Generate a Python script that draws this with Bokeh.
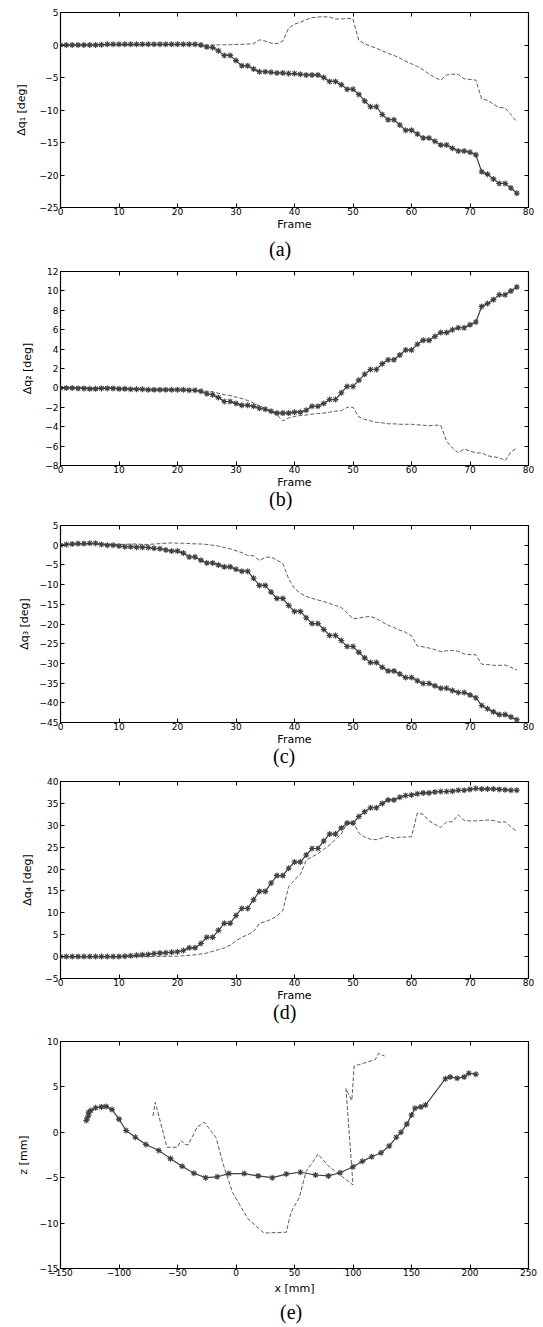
from bokeh.plotting import figure
from bokeh.layouts import column
from bokeh.models import Range1d, LinearAxis, FixedTicker, Title
from bokeh.embed import file_html
from bokeh.resources import INLINE

frames = [0, 1, 2, 3, 4, 5, 6, 7, 8, 9, 10, 11, 12, 13, 14, 15, 16, 17, 18, 19,
          20, 21, 22, 23, 24, 25, 26, 27, 28, 29, 30, 31, 32, 33, 34, 35, 36, 37, 38, 39,
          40, 41, 42, 43, 44, 45, 46, 47, 48, 49, 50, 51, 52, 53, 54, 55, 56, 57, 58, 59,
          60, 61, 62, 63, 64, 65, 66, 67, 68, 69, 70, 71, 72, 73, 74, 75, 76, 77, 78]

# (a) delta q1
q1_est = [0, 0, 0, 0, 0, 0, 0, 0.05, 0.1, 0.1, 0.1, 0.1, 0.1, 0.1, 0.1, 0.1,
          0.1, 0.1, 0.1, 0.1, 0.1, 0.1, 0.1, 0.1, 0.0, -0.3, -0.4, -0.9, -1.6, -1.6,
          -2.4, -3.2, -3.2, -3.7, -4.1, -4.1, -4.2, -4.3, -4.3, -4.4,
          -4.4, -4.5, -4.6, -4.6, -4.6, -5.0, -5.6, -5.6, -6.1, -6.8,
          -6.8, -7.6, -8.6, -9.5, -9.5, -10.7, -11.5, -11.5, -12.3, -13.1,
          -13.1, -13.7, -14.3, -14.3, -14.8, -15.4, -15.4, -15.9, -16.3, -16.3,
          -16.5, -16.9, -19.5, -19.9, -20.6, -21.3, -21.3, -22.0, -22.8]
q1_ref = [0, 0, 0, 0, 0, 0, 0, 0, 0, 0, 0, 0, 0, 0, 0, 0, 0, 0, 0, 0,
          0, 0, 0, 0, 0, 0.0, 0.0, 0.02, 0.03, 0.05,
          0.08, 0.1, 0.15, 0.2, 0.8, 0.6, 0.3, 0.2, 0.6, 2.6,
          3.2, 3.5, 3.9, 4.2, 4.3, 4.35, 4.3, 4.0, 4.0, 4.1,
          4.0, 0.7, 0.2, -0.2, -0.5, -0.9, -1.3, -1.6, -2.0, -2.5,
          -2.9, -3.3, -3.8, -4.5, -5.0, -5.4, -4.6, -4.5, -4.5, -5.2,
          -5.3, -5.4, -8.3, -8.5, -9.1, -9.6, -9.7, -10.7, -11.8]

# (b) delta q2
q2_est = [0.0, 0.0, 0.0, -0.05, -0.05, -0.1, -0.1, -0.05, -0.05, -0.05,
          -0.1, -0.1, -0.15, -0.15, -0.15, -0.2, -0.2, -0.2, -0.2, -0.2,
          -0.2, -0.2, -0.25, -0.25, -0.35, -0.6, -0.7, -1.0, -1.4, -1.4,
          -1.6, -1.8, -1.8, -1.9, -2.1, -2.2, -2.4, -2.6, -2.6, -2.6,
          -2.5, -2.5, -2.3, -1.9, -1.9, -1.6, -1.2, -1.2, -0.5, 0.15,
          0.15, 0.8, 1.4, 1.9, 1.9, 2.5, 2.9, 2.9, 3.4, 3.9,
          3.9, 4.5, 4.9, 4.9, 5.3, 5.7, 5.7, 6.0, 6.2, 6.2,
          6.5, 6.8, 8.4, 8.7, 9.1, 9.6, 9.6, 10.0, 10.4]
q2_ref = [0.0, 0.0, 0.0, 0.0, 0.0, 0.0, 0.0, 0.0, 0.0, 0.0,
          -0.05, -0.05, -0.05, -0.1, -0.1, -0.1, -0.1, -0.1, -0.1, -0.1,
          -0.1, -0.1, -0.15, -0.2, -0.3, -0.35, -0.4, -0.55, -0.7, -0.8,
          -0.95, -1.1, -1.3, -1.55, -1.85, -2.1, -2.4, -2.8, -3.4, -3.1,
          -2.95, -2.85, -2.8, -2.7, -2.65, -2.6, -2.5, -2.4, -2.35, -2.0,
          -2.0, -3.0, -3.25, -3.4, -3.55, -3.6, -3.7, -3.7, -3.75, -3.75,
          -3.75, -3.8, -3.85, -3.9, -3.85, -3.85, -5.5, -6.2, -6.7, -6.3,
          -6.5, -6.7, -6.7, -7.0, -7.1, -7.2, -7.5, -6.6, -6.2]

# (c) delta q3
q3_est = [0.0, 0.2, 0.3, 0.4, 0.4, 0.5, 0.5, 0.2, 0.0, 0.0,
          -0.2, -0.4, -0.4, -0.5, -0.5, -0.6, -0.8, -0.9, -1.2, -1.5,
          -1.5, -2.0, -3.0, -3.0, -3.8, -4.5, -4.5, -5.0, -5.5, -5.5,
          -6.1, -6.6, -6.6, -8.4, -10.2, -10.2, -11.9, -13.5, -13.5, -15.3,
          -16.8, -16.8, -18.4, -19.9, -19.9, -21.4, -22.9, -22.9, -24.2, -25.7,
          -25.7, -27.2, -28.6, -29.8, -29.8, -31.0, -31.9, -31.9, -32.7, -33.6,
          -33.6, -34.4, -35.1, -35.1, -35.7, -36.3, -36.3, -36.9, -37.4, -37.4,
          -38.0, -38.7, -40.7, -41.5, -42.3, -43.0, -43.0, -43.6, -44.3]
q3_ref = [0.0, 0.1, 0.2, 0.3, 0.3, 0.3, 0.3, 0.3, 0.2, 0.2,
          0.2, 0.2, 0.3, 0.3, 0.2, 0.2, 0.3, 0.4, 0.5, 0.6,
          0.5, 0.5, 0.4, 0.35, 0.3, 0.2, 0.0, -0.2, -0.6, -0.9,
          -1.4, -1.9, -2.6, -2.7, -3.9, -3.1, -3.0, -3.8, -4.6, -8.5,
          -11.0, -12.2, -13.0, -13.5, -13.9, -14.3, -14.8, -15.3, -15.8, -17.2,
          -18.7, -18.5, -18.2, -18.1, -18.6, -19.5, -20.3, -20.9, -21.6, -22.1,
          -23.0, -25.6, -25.8, -26.1, -26.5, -27.0, -26.8, -26.7, -26.9, -27.6,
          -27.8, -27.8, -30.2, -30.3, -30.5, -30.5, -30.4, -31.0, -31.7]

# (d) delta q4
q4_est = [0, 0, 0, 0, 0, 0, 0, 0, 0, 0,
          0, 0.1, 0.2, 0.3, 0.4, 0.5, 0.7, 0.8, 0.9, 1.0,
          1.1, 1.4, 2.0, 2.0, 3.0, 4.4, 4.4, 6.0, 7.6, 7.6,
          9.4, 11.0, 11.0, 13.0, 14.9, 14.9, 16.8, 18.5, 18.5, 20.2,
          21.6, 21.6, 23.2, 24.7, 24.7, 26.4, 28.0, 28.0, 29.4, 30.5,
          30.5, 32.0, 33.1, 34.0, 34.0, 35.0, 35.8, 35.8, 36.4, 36.8,
          36.9, 37.2, 37.4, 37.4, 37.6, 37.7, 37.7, 37.8, 38.0, 38.0,
          38.2, 38.4, 38.3, 38.3, 38.3, 38.2, 38.1, 38.0, 38.0]
q4_ref = [0, 0, 0, 0, 0, 0, 0, 0, 0, 0,
          0, 0, 0, 0, 0, 0, 0.05, 0.05, 0.05, 0.1,
          0.1, 0.2, 0.3, 0.4, 0.6, 0.8, 1.2, 1.6, 2.0, 2.6,
          3.6, 4.4, 5.0, 5.7, 7.6, 8.0, 8.5, 9.3, 10.5, 16.0,
          17.5, 18.8, 22.0, 22.8, 23.5, 24.5, 25.5, 26.8, 28.0, 30.5,
          30.8, 28.2, 27.3, 26.8, 26.7, 27.1, 27.5, 27.0, 27.3, 27.3,
          27.4, 32.8, 32.5, 31.0, 30.2, 29.5, 30.8, 30.8, 32.4, 31.1,
          31.0, 31.0, 31.1, 31.2, 31.1, 30.7, 30.8, 29.6, 28.6]

# (e) x-z trajectory
e_est_x = [-128, -127, -126, -126, -124, -120, -115, -111, -106, -100,
           -94, -86, -77, -66, -56, -46, -36, -26, -16, -6,
           7, 19, 31, 43, 55, 68, 79, 89, 100, 108,
           116, 124, 131, 137, 141, 146, 150, 153, 158, 162,
           179, 183, 189, 195, 199, 205]
e_est_z = [1.3, 1.6, 1.9, 2.2, 2.4, 2.7, 2.8, 2.85, 2.5, 1.45,
           0.2, -0.55, -1.35, -2.0, -2.9, -3.75, -4.5, -5.0, -4.9, -4.55,
           -4.55, -4.8, -5.0, -4.6, -4.4, -4.7, -4.8, -4.45, -3.8, -3.2,
           -2.7, -2.25, -1.5, -0.55, 0.0, 0.9, 1.9, 2.65, 2.8, 3.0,
           5.9, 6.1, 5.95, 6.1, 6.5, 6.4]
e_ref_x = [-71, -69, -59, -50, -47, -44, -41, -33, -27, -17,
           -11, -3, 10, 24, 43, 47, 54, 60, 66, 70,
           79, 89, 100, 94, 99, 101, 119, 122, 127]
e_ref_z = [1.8, 3.3, -1.65, -1.65, -0.9, -1.3, -1.4, 0.6, 1.1, -0.6,
           -3.5, -6.6, -9.5, -11.1, -11.0, -8.8, -7.2, -4.3, -3.2, -2.4,
           -3.7, -4.7, -5.8, 4.8, 3.5, 7.3, 8.0, 8.7, 8.4]

frame_ticks = [0, 10, 20, 30, 40, 50, 60, 70, 80]

W = 540
TICK_FONT = "DejaVu Sans"
EST_COLOR = "#404040"
REF_COLOR = "#5a5a5a"


def make_panel(height, top, bottom, frame_left, frame_right, xr, yr, xticks, yticks,
               xlabel, ylabel, ylab_standoff, caption, cap_standoff, xlab_standoff=0):
    p = figure(width=W, height=height, x_range=Range1d(*xr), y_range=Range1d(*yr),
               output_backend="svg", toolbar_location=None,
               min_border_left=frame_left, min_border_right=W - frame_right,
               min_border_top=top, min_border_bottom=bottom)
    p.grid.visible = False
    p.outline_line_color = "black"
    p.outline_line_width = 1.2
    p.background_fill_color = "white"
    p.border_fill_color = "white"

    for ax, ticks in ((p.xaxis[0], xticks), (p.yaxis[0], yticks)):
        ax.ticker = FixedTicker(ticks=ticks)
        ax.major_tick_in = 4
        ax.major_tick_out = 0
        ax.major_tick_line_color = "black"
        ax.minor_tick_line_color = None
        ax.axis_line_color = None
        ax.major_label_text_font = TICK_FONT
        ax.major_label_text_font_size = "9px"
        ax.major_label_text_color = "black"
        ax.axis_label_text_font = TICK_FONT
        ax.axis_label_text_font_size = "11px"
        ax.axis_label_text_font_style = "normal"
        ax.axis_label_text_color = "black"
    p.xaxis[0].major_label_standoff = 0
    p.yaxis[0].major_label_standoff = 2
    p.xaxis[0].axis_label = xlabel
    p.yaxis[0].axis_label = ylabel
    p.xaxis[0].axis_label_standoff = xlab_standoff
    p.yaxis[0].axis_label_standoff = ylab_standoff

    # tick marks on the top and right edges of the box (no labels)
    for side, ticks in (("above", xticks), ("right", yticks)):
        ax = LinearAxis(ticker=FixedTicker(ticks=ticks), major_tick_in=4, major_tick_out=0,
                        major_tick_line_color="black", minor_tick_line_color=None,
                        axis_line_color=None, major_label_text_font_size="1px",
                        major_label_text_color=None, major_label_standoff=0)
        p.add_layout(ax, side)

    offset = 280 - 11.5 - frame_left
    p.add_layout(Title(text=caption, align="left", offset=offset, vertical_align="top",
                       text_font="Liberation Serif", text_font_size="20px",
                       text_font_style="normal", text_color="black",
                       standoff=cap_standoff), "below")
    return p


def draw(p, x, est, ref_x, ref):
    p.line(ref_x, ref, line_color=REF_COLOR, line_width=1, line_dash="4 2")
    p.line(x, est, line_color=EST_COLOR, line_width=1.2)
    p.scatter(x, est, marker="asterisk", size=6, line_color=EST_COLOR, line_width=1.1)


pa = make_panel(265, 12, 58, 60, 528, (0, 80), (-25, 5), frame_ticks,
                [-25, -20, -15, -10, -5, 0, 5], "Frame", "Δq₁ [deg]", 9, "(a)", 8)
draw(pa, frames, q1_est, frames, q1_ref)

pb = make_panel(254, 6, 54, 60, 529, (0, 80), (-8, 12), frame_ticks,
                [-8, -6, -4, -2, 0, 2, 4, 6, 8, 10, 12], "Frame", "Δq₂ [deg]", 8, "(b)", -7)
draw(pb, frames, q2_est, frames, q2_ref)

pc = make_panel(256, 6, 53, 56, 530, (0, 80), (-45, 5), frame_ticks,
                [-45, -40, -35, -30, -25, -20, -15, -10, -5, 0, 5], "Frame", "Δq₃ [deg]", 6, "(c)", -7)
draw(pc, frames, q3_est, frames, q3_ref)

pd = make_panel(260, 6, 57, 56, 530, (0, 80), (-5, 40), frame_ticks,
                [-5, 0, 5, 10, 15, 20, 25, 30, 35, 40], "Frame", "Δq₄ [deg]", 8, "(d)", -7)
draw(pd, frames, q4_est, frames, q4_ref)

pe = make_panel(292, 6, 58, 49, 529, (-150, 250), (-15, 10),
                [-150, -100, -50, 0, 50, 100, 150, 200, 250],
                [-15, -10, -5, 0, 5, 10], "x [mm]", "z [mm]", 7, "(e)", 6, xlab_standoff=3)
draw(pe, e_est_x, e_est_z, e_ref_x, e_ref_z)

layout = column(pa, pb, pc, pd, pe)
open("out.html", "w").write(file_html(layout, INLINE))
